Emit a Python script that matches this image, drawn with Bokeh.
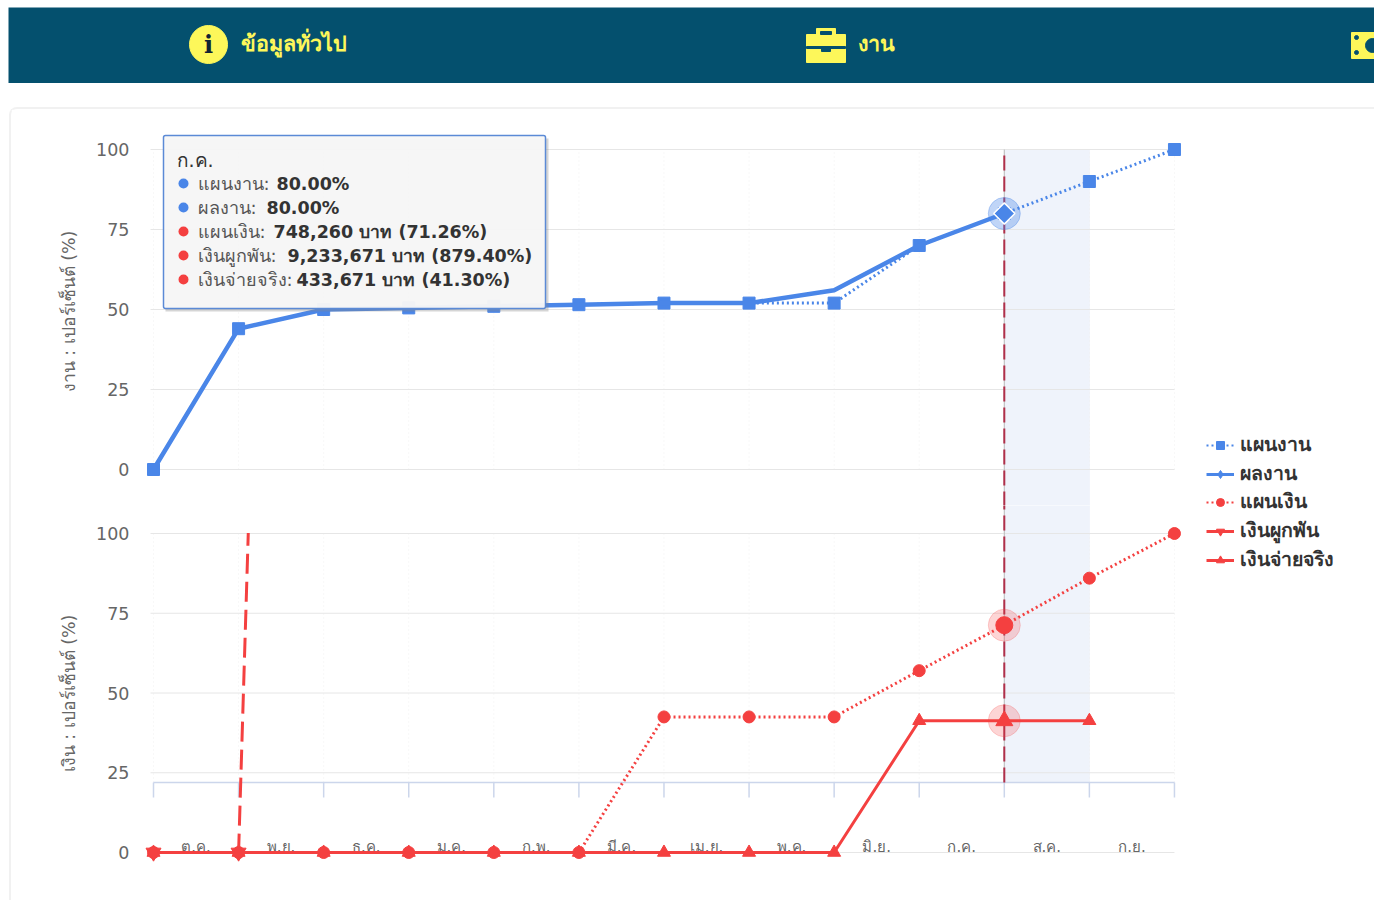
from math import pi
from bokeh.plotting import figure
from bokeh.layouts import column, row
from bokeh.models import (Range1d, LinearAxis, FixedTicker, BoxAnnotation, Label, Legend, LegendItem)
from bokeh.core.properties import value
from bokeh.embed import file_html
from bokeh.resources import INLINE

months = ["ต.ค.", "พ.ย.", "ธ.ค.", "ม.ค.", "ก.พ.", "มี.ค.", "เม.ย.", "พ.ค.", "มิ.ย.", "ก.ค.", "ส.ค.", "ก.ย."]
points = [0, 1, 2, 3, 4, 5, 6, 7, 8, 9, 10, 11, 12]
y_ticks = [0, 25, 50, 75, 100]
work_plan = [0, 44, 50, 50.5, 51, 51.5, 52, 52, 52, 70, 80, 90, 100]
work_actual = [0, 44, 50, 50.5, 51, 51.5, 52, 52, 56, 70, 80]
money_plan = [0, 0, 0, 0, 0, 0, 42.5, 42.5, 42.5, 57, 71.26, 86, 100]
money_committed = [0, 0, 879.4]
money_paid = [0, 0, 0, 0, 0, 0, 0, 0, 0, 41.3, 41.3, 41.3]
current_month = 10
tooltip_rows = [("แผนงาน: ", "80.00%", "#4a86e8"), ("ผลงาน: ", "80.00%", "#4a86e8"),
                ("แผนเงิน: ", "748,260 บาท (71.26%)", "#f44040"),
                ("เงินผูกพัน: ", "9,233,671 บาท (879.40%)", "#f44040"),
                ("เงินจ่ายจริง: ", "433,671 บาท (41.30%)", "#f44040")]
series_names = ["แผนงาน", "ผลงาน", "แผนเงิน", "เงินผูกพัน", "เงินจ่ายจริง"]

BLUE = "#4a86e8"
RED = "#f44040"
GRID = "#e6e6e6"
TXT = "#666666"
FONT = "DejaVu Sans"
CARD = "#f1f1f1"
BAND = "#eff3fb"

UX = 85.08
def tx(px): return (px - 153) / UX
def wy(py): return (469 - py) / 3.2
def my(py): return (852 - py) / 3.19

x_start, x_end = tx(140), tx(1190)

# ---------------- header
header = figure(width=1366, height=76, x_range=Range1d(8, 1374), y_range=Range1d(83, 7),
                x_axis_location=None, y_axis_location=None, toolbar_location=None,
                output_backend="svg", min_border=0, outline_line_color=None,
                background_fill_color="#04506e", border_fill_color="#04506e")
header.grid.visible = False
Y = "#fdf75a"
header.scatter([208], [44], size=38, color=Y, marker="circle")
header.text([208], [44], text=["i"], text_font=value("DejaVu Serif"), text_font_style="bold",
            text_font_size="24px", text_color="#123", text_align="center", text_baseline="middle")
header.text([240], [43], text=["ข้อมูลทั่วไป"], text_font=value(FONT), text_font_style="bold",
            text_font_size="21.5px", text_color=Y, text_align="left", text_baseline="middle")
header.quad(left=[806], right=[845], top=[34], bottom=[62], color=Y)
header.quad(left=[816], right=[835], top=[28], bottom=[34], color=Y)
header.quad(left=[820], right=[831], top=[31], bottom=[34], color="#04506e")
header.quad(left=[806], right=[845], top=[46], bottom=[48], color="#04506e")
header.quad(left=[821], right=[830], top=[46], bottom=[51], color="#04506e")
header.text([857], [43], text=["งาน"], text_font=value(FONT), text_font_style="bold",
            text_font_size="21.5px", text_color=Y, text_align="left", text_baseline="middle")
header.quad(left=[1351], right=[1374], top=[32], bottom=[58], color=Y)
header.scatter([1356, 1356], [37, 52], size=4, color="#04506e")
header.scatter([1372], [45], size=14, color="#04506e")


def base(height, y_range, label, border_top=0):
    p = figure(width=1179, height=height, x_range=Range1d(x_start, x_end), y_range=y_range,
               x_axis_location=None, y_axis_location=None, toolbar_location=None,
               output_backend="svg", outline_line_color=None, background_fill_color="white",
               min_border_left=129, min_border_right=0, min_border_top=border_top, min_border_bottom=0)
    p.grid.visible = False
    ax = LinearAxis(ticker=FixedTicker(ticks=y_ticks), bounds=(0, 100), axis_line_color=None,
                    major_tick_line_color=None, minor_tick_line_color=None, major_tick_out=0,
                    major_label_standoff=11, major_label_text_color=TXT, major_label_text_font_size="17.5px",
                    major_label_text_font=FONT,
                    axis_label=label, axis_label_text_color=TXT, axis_label_text_font_size="17.5px",
                    axis_label_text_font=FONT, axis_label_text_font_style="normal", axis_label_standoff=14)
    p.add_layout(ax, "left")
    return p

# ---------------- top panel (work)
top = base(396, Range1d(wy(505), wy(117)), "งาน : เปอร์เซ็นต์ (%)", border_top=8)
top.quad(left=[current_month], right=[current_month + 1], top=[100], bottom=[wy(700)], color=BAND, level="underlay")
top.segment(x0=points, x1=points, y0=[0] * 13, y1=[100] * 13, line_color="#f0f0f0", line_dash="1 3", level="underlay")
top.segment(x0=[tx(150)] * 5, x1=[12] * 5, y0=y_ticks, y1=y_ticks, line_color=GRID, level="underlay")
top.segment([current_month], [wy(506)], [current_month], [100], line_color="#bbbbbb")
top.segment([current_month], [wy(506)], [current_month], [100], line_color="#b0304a", line_width=2, line_dash="15 6")

wp_line = top.line(points, work_plan, line_color=BLUE, line_width=3, line_dash="2 3")
wp_mark = top.scatter(points, work_plan, marker="square", size=12, color=BLUE)
wa_line = top.line(points[:11], work_actual, line_color=BLUE, line_width=4.5)
top.scatter([current_month], [work_plan[current_month]], marker="circle", size=32, color=BLUE, alpha=0.35)
top.scatter([current_month], [work_actual[-1]], marker="square", angle=pi / 4, size=15, fill_color=BLUE,
            line_color="white", line_width=1.5)

# tooltip
top.add_layout(BoxAnnotation(left=tx(165), right=tx(548), top=wy(138), bottom=wy(311), fill_color="#888888",
                             fill_alpha=0.35, line_alpha=0, level="overlay"))
top.add_layout(BoxAnnotation(left=tx(163), right=tx(545), top=wy(135), bottom=wy(308), fill_color="#f7f7f7",
                             fill_alpha=0.96, line_color="#5b8ad6", line_alpha=1, line_width=1.5, border_radius=2,
                             level="overlay"))
top.add_layout(Label(x=tx(176), y=wy(159), text=months[9], text_font=FONT, text_font_size="19px",
                     text_color="#333333", text_baseline="middle", level="overlay"))
row_y = [183, 207, 231, 255, 279]
val_x = [276, 266, 273, 287, 296]
for (nm, val, col), py, vx in zip(tooltip_rows, row_y, val_x):
    top.add_layout(BoxAnnotation(left=tx(178), right=tx(188), top=wy(py - 5), bottom=wy(py + 5), fill_color=col,
                                 fill_alpha=1, line_alpha=0, border_radius=5, level="overlay"))
    top.add_layout(Label(x=tx(197), y=wy(py), text=nm, text_font=FONT, text_font_size="18px",
                         text_color="#555555", text_baseline="middle", level="overlay"))
    top.add_layout(Label(x=tx(vx), y=wy(py), text=val, text_font=FONT, text_font_size="17.5px",
                         text_font_style="bold", text_color="#333333", text_baseline="middle", level="overlay"))

# ---------------- bottom panel (money)
bot = base(376, Range1d(my(881), my(505)), "เงิน : เปอร์เซ็นต์ (%)")
axis_y = my(782)
bot.quad(left=[current_month], right=[current_month + 1], bottom=[axis_y], top=[my(300)], color=BAND, level="underlay")
bot.segment(x0=points, x1=points, y0=[axis_y] * 13, y1=[100] * 13, line_color="#f0f0f0", line_dash="1 3", level="underlay")
bot.segment(x0=[tx(150)] * 5, x1=[12] * 5, y0=y_ticks, y1=y_ticks, line_color=GRID, level="underlay")
# category axis, sitting inside the plot as in the reference
bot.segment([0], [axis_y], [12], [axis_y], line_color="#ccd6eb", line_width=1.5)
bot.segment(x0=points, x1=points, y0=[axis_y] * 13, y1=[my(797)] * 13, line_color="#ccd6eb", line_width=1.5)
bot.text([i + 0.5 for i in range(12)], [my(846)] * 12, text=months, text_font=value(FONT), text_font_size="15px",
         text_color=TXT, text_align="center", text_baseline="middle")
bot.segment([current_month], [axis_y], [current_month], [my(504)], line_color="#bbbbbb")
bot.segment([current_month], [axis_y], [current_month], [my(504)], line_color="#b0304a", line_width=2, line_dash="15 6")

mp_line = bot.line(points, money_plan, line_color=RED, line_width=3, line_dash="2 3")
mp_mark = bot.scatter(points, money_plan, marker="circle", size=12, color=RED)
mc_line = bot.line(points[:3], money_committed, line_color=RED, line_width=3, line_dash="20 8")
mc_mark = bot.scatter(points[:2], money_committed[:2], marker="inverted_triangle", size=15, color=RED)
mr_line = bot.line(points[:12], money_paid, line_color=RED, line_width=3)
mr_mark = bot.scatter(points[:12], money_paid, marker="triangle", size=13, color=RED)
bot.scatter([current_month], [money_plan[current_month]], marker="circle", size=32, color=RED, alpha=0.22)
bot.scatter([current_month], [money_plan[current_month]], marker="circle", size=17, color=RED)
bot.scatter([current_month], [money_paid[current_month]], marker="circle", size=32, color=RED, alpha=0.22)
bot.scatter([current_month], [money_paid[current_month]], marker="triangle", size=17, color=RED)
# the value range stops at 100: what lies above it is hidden
bot.quad(left=[1], right=[3], bottom=[my(532)], top=[my(300)], color="white", level="overlay")

# ---------------- legend column
leg = figure(width=184, height=791, x_range=Range1d(-100, -99), y_range=Range1d(-100, -99),
             x_axis_location=None, y_axis_location=None, toolbar_location=None, output_backend="svg",
             outline_line_color=None, min_border=0)
leg.grid.visible = False
styles = [("square", BLUE, "2 3", 2, 13, work_plan), ("diamond", BLUE, "solid", 3, 15, work_plan),
          ("circle", RED, "2 3", 2, 14, money_plan), ("inverted_triangle", RED, "solid", 3, 15, money_plan),
          ("triangle", RED, "solid", 3, 15, money_paid)]
legend_rows = [445, 474, 502, 531, 560]
for nm, (mk, col, dash, lw, sz, ys), py in zip(series_names, styles, legend_rows):
    xs = points[:len(ys)]
    l = leg.line(xs, ys, line_color=col, line_width=lw, line_dash=dash)
    s = leg.scatter(xs, ys, marker=mk, size=sz, color=col)
    legend = Legend(items=[LegendItem(label=nm, renderers=[l, s])], location=(16, 325 + 560 - py),
                    orientation="vertical", border_line_color=None,
                    background_fill_alpha=0, padding=0, margin=0, spacing=0, glyph_width=28, glyph_height=20,
                    label_text_font=FONT, label_text_font_size="19.5px", label_text_font_style="bold",
                    label_text_color="#333333", label_standoff=6)
    leg.add_layout(legend, "center")

card = row(column(top, bot, spacing=0), leg, spacing=0, margin=(24, 0, 0, 1),
           styles={"border-top": "2px solid " + CARD, "border-left": "2px solid " + CARD, "border-radius": "8px 0 0 0"})
page = column(header, card, spacing=0, margin=(7, 0, 0, 8))
open("out.html", "w").write(file_html(page, INLINE))
